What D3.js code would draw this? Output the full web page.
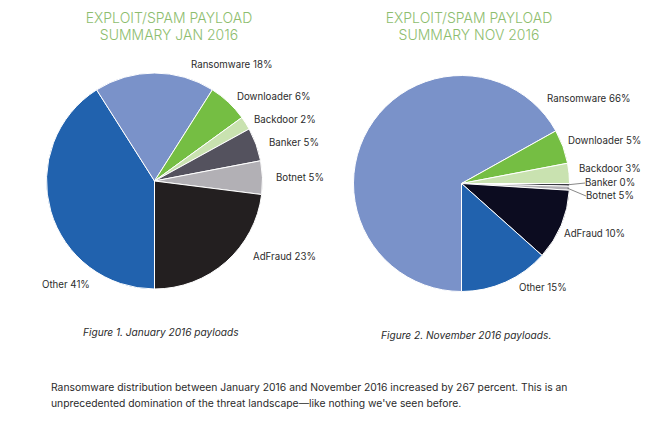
<!DOCTYPE html>
<html>
<head>
<meta charset="utf-8">
<script src="https://cdn.jsdelivr.net/npm/d3@7"></script>
<style>
  html, body { margin: 0; padding: 0; background: #fff; }
  text { font-family: Inter, "Noto Sans", sans-serif; fill: #2b2b2b; }
</style>
</head>
<body>
<div id="chart"></div>
<script>
// slices start at the bottom of the pie and run clockwise
const janCategories = ['Other', 'Ransomware', 'Downloader', 'Backdoor', 'Banker', 'Botnet', 'AdFraud'];
const novCategories = ['Ransomware', 'Downloader', 'Backdoor', 'Banker', 'Botnet', 'AdFraud', 'Other'];

// the printed percentages
const janLabels = [41, 18, 6, 2, 5, 5, 23];
const novLabels = [66, 5, 3, 0, 5, 10, 15];

// slice sizes (nov's printed labels add up to 104)
const janValues = [41, 18, 6, 2, 5, 5, 23];
const novValues = [66.9, 5.1, 3, 0.4, 0.6, 10.6, 13.4];

const janTitle = ['EXPLOIT/SPAM PAYLOAD', 'SUMMARY JAN 2016'];
const novTitle = ['EXPLOIT/SPAM PAYLOAD', 'SUMMARY NOV 2016'];
const janCaption = 'Figure 1. January 2016 payloads';
const novCaption = 'Figure 2. November 2016 payloads.';
const bodyLines = [
  'Ransomware distribution between January 2016 and November 2016 increased by 267 percent. This is an',
  "unprecedented domination of the threat landscape\u2014like nothing we've seen before."
];

const janColors = ['#2162ae', '#7a92c9', '#75be43', '#c9e2b0', '#54525e', '#b2b0b5', '#231f20'];
const novColors = ['#7a92c9', '#75be43', '#c9e2b0', '#3a3a42', '#b2b0b5', '#0c0c20', '#2162ae'];

// left edge and vertical centre of each label
const janLabelPos = {
  Other: [42, 285], Ransomware: [191, 65], Downloader: [237, 97], Backdoor: [254, 120],
  Banker: [269, 143], Botnet: [276, 178], AdFraud: [253, 257]
};
const novLabelPos = {
  Other: [519, 288], Ransomware: [547, 99], Downloader: [568, 141], Backdoor: [579, 169],
  Banker: [585, 183], Botnet: [586, 196], AdFraud: [564, 234]
};

const width = 670;
const height = 422;
const radius = 108;

const svg = d3.select('#chart')
  .append('svg')
  .attr('width', width)
  .attr('height', height)
  .style('display', 'block');

function drawPie(opts) {
  const color = d3.scaleOrdinal().domain(opts.categories).range(opts.colors);

  const pie = d3.pie()
    .sort(null)
    .value((d) => d.value)
    .startAngle(Math.PI)
    .endAngle(3 * Math.PI);

  const data = opts.categories.map((name, i) => ({ name, value: opts.values[i], label: opts.labels[i] }));
  const slices = pie(data);
  const arc = d3.arc().innerRadius(0).outerRadius(radius);

  const g = svg.append('g').attr('transform', `translate(${opts.cx},${opts.cy})`);

  g.selectAll('path')
    .data(slices)
    .enter()
    .append('path')
    .attr('d', arc)
    .attr('fill', (d) => color(d.data.name))
    .attr('stroke', '#fff')
    .attr('stroke-width', 1);

  // thin leader lines for the slivers
  const edge = d3.arc().innerRadius(radius - 2).outerRadius(radius - 2);
  g.selectAll('line')
    .data(slices.filter((d) => opts.leaders.includes(d.data.name)))
    .enter()
    .append('line')
    .attr('x1', (d) => edge.centroid(d)[0])
    .attr('y1', (d) => edge.centroid(d)[1])
    .attr('x2', (d) => opts.labelPos[d.data.name][0] - opts.cx)
    .attr('y2', (d) => opts.labelPos[d.data.name][1] - opts.cy)
    .attr('stroke', '#555')
    .attr('stroke-width', 0.7);

  svg.append('g')
    .selectAll('text')
    .data(slices)
    .enter()
    .append('text')
    .attr('x', (d) => opts.labelPos[d.data.name][0])
    .attr('y', (d) => opts.labelPos[d.data.name][1])
    .attr('dy', '0.35em')
    .attr('font-size', 9.7)
    .text((d) => `${d.data.name} ${d.data.label}%`);

  svg.append('g')
    .selectAll('text')
    .data(opts.title)
    .enter()
    .append('text')
    .attr('x', opts.titleX)
    .attr('y', (d, i) => 18 + i * 17)
    .attr('dy', '0.35em')
    .attr('text-anchor', 'middle')
    .attr('font-size', 14)
    .attr('font-weight', 300)
    .style('fill', '#8dbd6e')
    .text((d) => d);

  svg.append('text')
    .attr('x', opts.captionX)
    .attr('y', opts.captionY)
    .attr('dy', '0.35em')
    .attr('font-size', 10.15)
    .attr('font-style', 'italic')
    .text(opts.caption);
}

drawPie({
  categories: janCategories,
  cx: 154.5, cy: 181, values: janValues, labels: janLabels, colors: janColors,
  labelPos: janLabelPos, leaders: [], title: janTitle, titleX: 169,
  caption: janCaption, captionX: 83, captionY: 332
});

drawPie({
  categories: novCategories,
  cx: 461.5, cy: 183.5, values: novValues, labels: novLabels, colors: novColors,
  labelPos: novLabelPos, leaders: ['Banker', 'Botnet'], title: novTitle, titleX: 469,
  caption: novCaption, captionX: 381, captionY: 335
});

svg.append('g')
  .selectAll('text')
  .data(bodyLines)
  .enter()
  .append('text')
  .attr('x', 51)
  .attr('y', (d, i) => 387 + i * 16.4)
  .attr('dy', '0.35em')
  .attr('font-size', 10.35)
  .text((d) => d);
</script>
</body>
</html>
